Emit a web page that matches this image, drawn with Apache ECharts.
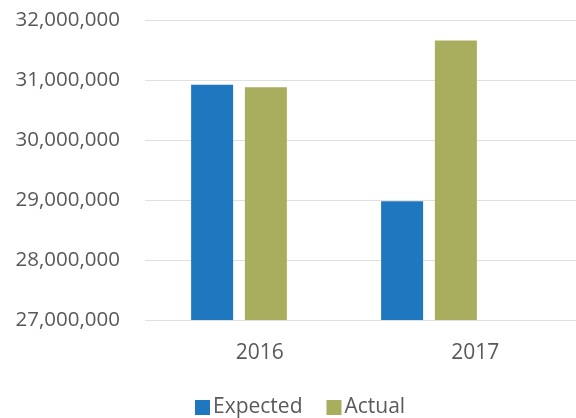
<!DOCTYPE html>
<html><head><meta charset="utf-8">
<script src="https://cdn.jsdelivr.net/npm/echarts@6/dist/echarts.min.js"></script>
<style>html,body{margin:0;padding:0;background:#fff}#c{width:576px;height:418px}</style>
</head><body><div id="c"></div>
<script>
const categories = ['2016', '2017'];
const expected = [30920000, 28980000];
const actual = [30880000, 31660000];
const yTicks = [27000000, 28000000, 29000000, 30000000, 31000000, 32000000];

const font = '"Open Sans", "Noto Sans", sans-serif';
const chart = echarts.init(document.getElementById('c'), null, {renderer: 'canvas'});
chart.setOption({
  animation: false,
  legend: {
    data: ['Expected', 'Actual'],
    top: 392, left: 190,
    itemWidth: 15, itemHeight: 15, itemGap: 24,
    icon: 'rect',
    textStyle: {fontFamily: font, fontSize: 21, color: '#595959', padding: [0, 0, 0, -2]}
  },
  grid: [
    {left: 145, right: 0, top: 20, bottom: 98},
    {left: 144, right: 52, top: 20, bottom: 98}
  ],
  xAxis: [
    {gridIndex: 0, type: 'category', data: categories,
     axisLine: {show: false}, axisTick: {show: false},
     axisLabel: {fontFamily: font, fontSize: 21, color: '#595959', margin: 23, padding: [0, 0, 0, 14]}},
    {gridIndex: 1, type: 'category', data: categories, show: false}
  ],
  yAxis: [
    {gridIndex: 0, type: 'value', min: yTicks[0], max: yTicks[yTicks.length - 1], interval: 1000000,
     axisLine: {show: false}, axisTick: {show: false},
     axisLabel: {fontFamily: font, fontSize: 20.5, color: '#595959', margin: 25,
       formatter: v => v.toLocaleString('en-US')},
     splitLine: {lineStyle: {color: '#e0e0e0', width: 1}}},
    {gridIndex: 1, type: 'value', min: yTicks[0], max: yTicks[yTicks.length - 1], show: false}
  ],
  series: [
    {name: 'Expected', type: 'bar', xAxisIndex: 1, yAxisIndex: 1, data: expected,
     barWidth: 42, barGap: '28%', itemStyle: {color: '#1f77bf'}},
    {name: 'Actual', type: 'bar', xAxisIndex: 1, yAxisIndex: 1, data: actual,
     barWidth: 42, barGap: '28%', itemStyle: {color: '#a9ae5f'}}
  ]
});
</script></body></html>
